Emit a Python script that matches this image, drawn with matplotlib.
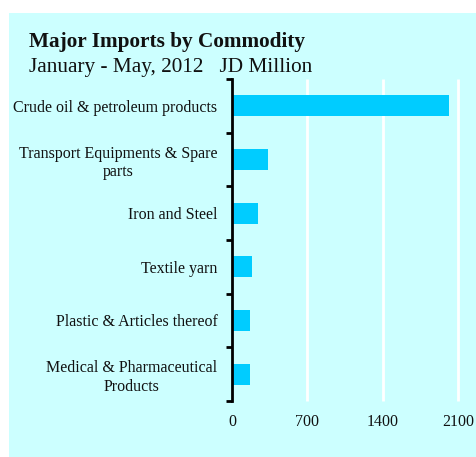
import matplotlib.pyplot as plt
from matplotlib.patches import Rectangle

categories = [
    "Crude oil & petroleum products",
    "Transport Equipments & Spare\nparts",
    "Iron and Steel",
    "Textile yarn",
    "Plastic & Articles thereof",
    "Medical & Pharmaceutical\nProducts",
]
values = [2012, 334, 241, 188, 170, 167]
x_ticks = [0, 700, 1400, 2100]

plt.rcParams['font.family'] = ['Liberation Serif', 'DejaVu Serif']

fig = plt.figure(figsize=(4.77, 4.57), dpi=100, facecolor='white')

# fundo azul claro do painel
fig.patches.append(Rectangle((9 / 477, 0), 1 - 9 / 477, 1 - 13 / 457,
                             transform=fig.transFigure, facecolor='#CCFFFF',
                             edgecolor='none', zorder=-1))

ax = fig.add_axes([232 / 477, 1 - 401 / 457, (458 - 232) / 477, (401 - 79) / 457])
ax.set_facecolor('none')

pos = list(range(len(categories)))
ax.barh(pos, values, height=0.39, color='#00CCFF', zorder=3)

ax.set_xlim(0, 2100)
ax.set_ylim(len(categories) - 0.5, -0.5)

ax.set_xticks(x_ticks)
ax.set_xticklabels([str(t) for t in x_ticks], fontsize=11.5, color='#111')
ax.tick_params(axis='x', length=0, pad=9)

ax.set_yticks(pos)
ax.set_yticklabels(categories, fontsize=11.5, color='#111')
for lbl in ax.get_yticklabels():
    lbl.set_multialignment('center')
ax.tick_params(axis='y', which='major', length=0, pad=10.5)
ax.set_yticks([p - 0.5 for p in range(len(categories) + 1)], minor=True)
ax.tick_params(axis='y', which='minor', length=4, width=2, direction='out', color='black')

# linhas de grade brancas verticais (a ultima fica na borda do eixo)
ax.vlines(x_ticks[1:], -0.5, len(categories) - 0.5, colors='white',
          linewidth=2, zorder=1, clip_on=False)

for s in ['top', 'right', 'bottom']:
    ax.spines[s].set_visible(False)
ax.spines['left'].set_linewidth(2)
ax.spines['left'].set_zorder(4)

fig.text(29 / 477, 1 - 47 / 457, 'Major Imports by Commodity', fontsize=15.3,
         fontweight='bold', va='baseline', ha='left', color='#111')
fig.text(29 / 477, 1 - 72 / 457, 'January - May, 2012   JD Million', fontsize=15.3,
         va='baseline', ha='left', color='#111')

fig.savefig('out.png', dpi=100)
